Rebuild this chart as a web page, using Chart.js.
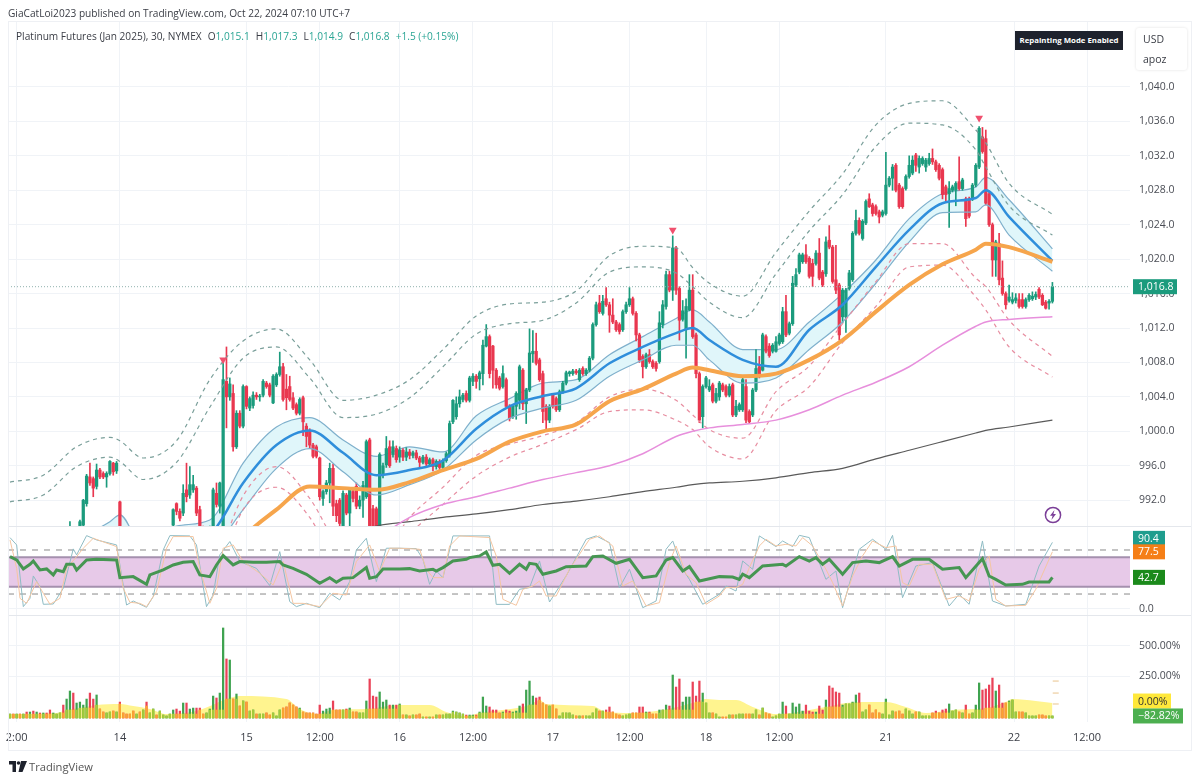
<!DOCTYPE html>
<html>
<head>
<meta charset="utf-8">
<title>Platinum Futures (Jan 2025)</title>
<script src="https://cdn.jsdelivr.net/npm/chart.js@4/dist/chart.umd.min.js"></script>
<style>
  html, body { margin: 0; background: #fff; }
  body { width: 1200px; height: 782px; position: relative; overflow: hidden; font-family: "Open Sans", sans-serif; color: #3a3d45; }
  canvas { position: absolute; left: 0; top: 0; }
  .abs { position: absolute; white-space: nowrap; }
  #frame { left: 8px; top: 21px; width: 1184px; height: 730px; border: 1px solid #eef0f4; box-sizing: border-box; }
  #published { left: 8px; top: 6px; font-size: 10.15px; }
  #legend { left: 16px; top: 29px; font-size: 10.15px; }
  #legend b { font-weight: 400; color: #2aa594; }
  #legend span { margin-left: 6px; }
  #badge { left: 1015px; top: 31px; width: 108px; height: 19px; line-height: 19px; text-align: center; background: #1e222d; color: #fff; font-size: 7.8px; font-weight: 700; }
  #unit { left: 1136px; top: 28px; width: 51px; height: 42px; background: #fff; box-shadow: 0 0 3px rgba(0,0,0,.12); border-radius: 3px; font-size: 10.5px; line-height: 20px; padding: 1px 0 0 7px; box-sizing: border-box; }
  #logoText { left: 29px; top: 759px; font-size: 11.2px; color: #555; }
</style>
</head>
<body>
<canvas id="chart" width="1200" height="782"></canvas>
<div class="abs" id="frame"></div>
<div class="abs" id="published">GiaCatLoi2023 published on TradingView.com, Oct 22, 2024 07:10 UTC+7</div>
<div class="abs" id="legend">Platinum Futures (Jan 2025), 30, NYMEX<span>O<b>1,015.1</b></span><span>H<b>1,017.3</b></span><span>L<b>1,014.9</b></span><span>C<b>1,016.8</b></span><span><b>+1.5 (+0.15%)</b></span></div>
<div class="abs" id="badge">Repainting Mode Enabled</div>
<div class="abs" id="unit">USD<br>apoz</div>
<svg class="abs" style="left:1044px;top:506px" width="18" height="18" viewBox="0 0 18 18">
  <circle cx="9" cy="9" r="7.6" fill="none" stroke="#7b3f98" stroke-width="1.5"/>
  <path d="M10.5 4 L6 9.8 H8.6 L7.4 14 L12 8 H9.4 Z" fill="#7b3f98"/>
</svg>
<svg class="abs" style="left:9px;top:761px" width="18" height="11" viewBox="0 0 18 11">
  <path d="M0 0 H7 V11 H3.5 V3.5 H0 Z M12 0 H18 L13.5 11 H9.5 Z" fill="#1e222d"/>
  <circle cx="9.5" cy="2" r="1.8" fill="#1e222d"/>
</svg>
<div class="abs" id="logoText">TradingView</div>
<script>
// 30 minute candles, one column per array
const opens = [
  985.2,985.6,985.3,985.9,985.6,986.1,985.9,986.4,986.2,986.6,
  986.4,986.8,986.5,986.2,986.6,987.0,987.3,987.1,987.9,988.5,
  988.1,988.4,989.1,991.6,994.7,994.5,993.6,995.5,995.1,994.7,
  995.1,996.3,995.4,991.8,988.9,987.2,986.5,986,985.5,985.9,
  985.6,986.1,985.8,986.2,986.7,986.4,986.9,987.2,987.6,989.1,
  991.6,990.7,990.5,993.2,992.6,993.2,993.4,990.9,988.5,987.5,
  987.8,988.9,992.8,991.3,989,1005.8,1004,1004.4,998.2,1002.1,
  1000.6,1005.2,1002.7,1003,1004.2,1004,1004.2,1005.6,1005.4,1003.3,
  1005.4,1006.6,1007.5,1004.9,1005.2,1003.9,1003.1,1002.1,1003.9,1000.6,
  1000.1,998.4,998.2,996.9,992.2,993,994,995.7,991.6,992,
  989,992.6,990.5,993,993.6,991.3,992,992.4,999,991,
  991,988.9,995,996.1,998.2,997.3,998,997,997.8,997,
  997.6,997.2,997.5,996.9,996.4,997,996.2,996.7,995.9,996.5,
  995.8,996.6,997.3,1001.1,1001.7,1003.2,1003.7,1004.4,1003.6,1005.8,
  1006.4,1006.1,1006.7,1009.9,1011,1009.9,1007.1,1006.2,1005.2,1006,
  1002.9,1001.7,1002.9,1003.6,1007.1,1003.2,1004.8,1009,1009.3,1008.3,
  1006.7,1002.9,1001.3,1004.2,1003.8,1002.5,1004.6,1005.6,1006.7,1006.7,
  1007,1006,1007.3,1006.7,1007.1,1008.5,1012.4,1014.9,1013.7,1015.4,
  1014.7,1013.5,1012.7,1012.4,1011.8,1013.9,1014.7,1015.4,1013.7,1011.2,
  1008.7,1007.5,1008.9,1008.1,1007.9,1008.1,1012.4,1014.5,1018.2,1016.4,
  1021.3,1016.6,1013,1011.8,1014.1,1016.4,1011.2,1006.7,1001.7,1005.2,
  1004.8,1005.4,1003.5,1004,1005.4,1005.2,1004.2,1005.4,1001.9,1002.5,
  1002.5,1005.2,1002.3,1001.9,1004.8,1007.5,1007.1,1011,1009.9,1009.3,
  1009.3,1010.2,1010.4,1013.9,1011.4,1012.5,1017,1018.5,1019.7,1020.5,
  1020.1,1019.5,1019.5,1020.7,1018.5,1018.3,1022.2,1021.4,1017.6,1017,
  1013.3,1013.3,1016.6,1017.6,1023,1024.5,1022.4,1024.2,1027,1026.3,
  1026.1,1025.5,1025.1,1025.3,1028.6,1029.4,1030.9,1028.6,1028.2,1028.2,
  1029.6,1030,1032.1,1030.7,1031.1,1030.7,1031.1,1031.7,1031.3,1030.9,
  1030.4,1028.4,1027.6,1028,1028,1029,1028.2,1027,1027,1027,
  1028.6,1030.7,1034.2,1034,1027.6,1024,1019.9,1021.8,1017.8,1016,
  1015.2,1015,1015.2,1015.3,1015.3,1014.5,1015.3,1015.4,1015.6,1016.5,
  1015.8,1015,1014.9,1015.1
];
const highs = [
  985.9,986,986.1,986.2,986.3,986.5,986.6,986.8,986.9,987.1,
  987,987.2,987,986.8,987.2,987.6,988,988.2,989.5,988.8,
  988.7,989.7,992.1,995,996.3,994.7,996.2,995.7,995.3,995.3,
  996.6,996.4,996.5,991.9,988.9,988,987.2,986.8,986.3,986.6,
  986.4,986.7,986.5,987,987.3,987.2,987.5,987.9,988.6,991,
  991.7,991,993.8,996.3,995.9,994.9,993.6,991.3,989,988.2,
  989,993.4,994,994.1,1008.3,1009.8,1006.2,1005.4,1002.4,1002.4,
  1005.4,1005.3,1004,1004.6,1004.5,1004.3,1006,1005.8,1005.6,1006.6,
  1006.8,1009.2,1007.9,1006.6,1006.4,1004.5,1003.3,1003.9,1004.1,1000.9,
  1000.3,998.6,998.4,997,993.2,994.3,996.3,996.2,992,992.2,
  993.1,992.8,993.4,993.4,994,992.5,994.2,999,999.2,991.4,
  991.2,997.5,996.3,999.4,998.9,998.9,998.3,998.2,998,998.1,
  997.9,997.7,997.8,997.1,997.2,997.3,996.9,996.9,996.7,996.7,
  996.8,997.6,1001.2,1003.7,1004,1004.8,1004.4,1004.7,1006.4,1006.7,
  1006.6,1007,1010.6,1012.4,1011.2,1010,1007.3,1006.4,1007.6,1006.2,
  1003.1,1003.1,1004.6,1007.7,1007.3,1005,1011.9,1011.7,1011.4,1008.5,
  1007,1003.1,1003.1,1004.4,1004,1004.8,1005.8,1007,1007,1007.2,
  1007.2,1007.3,1007.5,1007.3,1008.7,1012.6,1015,1015.8,1015.8,1016.7,
  1015,1015.4,1012.9,1012.6,1014.1,1015,1016.7,1015.6,1013.9,1011.4,
  1008.9,1009.1,1009.5,1008.3,1008.1,1013.9,1015.2,1018.6,1018.6,1022.7,
  1021.5,1016.8,1015.2,1015.4,1018.2,1018.2,1011.4,1006.9,1005.4,1006.4,
  1006,1005.6,1005,1005.8,1005.6,1005.4,1005.5,1005.6,1003.6,1003.3,
  1006.2,1006,1002.5,1005,1009.5,1008.7,1011.4,1011.2,1010.2,1010.2,
  1011,1011.4,1014.4,1015.8,1012.7,1018,1018.9,1020.7,1020.7,1021.7,
  1020.3,1020,1021,1022.4,1018.7,1022.6,1023.9,1021.6,1021.6,1017.2,
  1016.6,1016.6,1018.7,1023.2,1025.7,1024.8,1024.6,1026.9,1027.6,1026.5,
  1026.3,1025.7,1025.7,1032.4,1029.6,1031,1031.1,1028.8,1028.4,1029.8,
  1032,1032,1032.3,1032,1031.9,1031.7,1032.3,1032.8,1031.5,1031.1,
  1030.6,1028.6,1029,1028.6,1029,1031.9,1029.4,1027.2,1027.2,1028.8,
  1031.1,1035.4,1035.3,1035,1027.8,1024.2,1022.2,1023,1019.8,1016.2,
  1017,1016.1,1016,1016,1016,1015.5,1016,1016.2,1016.2,1016.7,
  1016,1015.2,1015.3,1017.3
];
const lows = [
  984.9,985.2,985,985.5,985.3,985.7,985.6,986,985.9,986.3,
  986.1,986.5,986,985.9,986.3,986.7,987,986.9,987.6,987.8,
  987.6,988.2,988.8,991.3,993.7,992.4,993.3,994.5,994.5,993.5,
  994.9,994.9,995.1,987,986.5,986,985.6,985.2,984.9,985.4,
  985,985.6,985.3,985.9,986.2,986,986.5,986.8,987.3,988.7,
  990.3,989.6,990.2,991.8,992.2,992.9,990.2,988,987,987,
  987.5,988.7,991.2,990.5,988.5,1000.4,1003.6,997.7,998,1000.4,
  1000.4,1002.6,1002.4,1002.7,1003.7,1003.5,1004,1005,1004,1003.2,
  1005.2,1006.4,1003.5,1002.5,1003.5,1002.5,1001.9,1001.9,999.5,998.2,
  998,996.9,996.9,992,991.4,992.7,991.7,990.2,989.5,988.5,
  988.5,990.3,988.8,991.8,991,991,990,992.2,987,988,
  988,988.5,994.6,995.8,995.8,997,996.4,996.4,996.6,996.6,
  996.8,996.9,996.7,995.8,996.2,996,995.9,995.4,995.6,995.3,
  995.6,996.4,997,1000.9,1001.4,1002.8,1003.4,1003.4,1003.4,1005.3,
  1005,1004.8,1005.4,1009.8,1006.2,1005,1005,1004.8,1005,1002.7,
  1001.2,1001.5,1001.4,1002.6,1002.5,1000.9,1004.6,1008,1007.7,1005.8,
  1001,1000.2,1001,1002.7,1002.3,1002.3,1004.4,1005.4,1006.4,1006.5,
  1006.6,1005.8,1006.5,1006.5,1006.9,1008.3,1012.2,1013.7,1013.5,1014.5,
  1011.5,1012.5,1011.6,1011.3,1011.6,1013.7,1014.5,1013.5,1010.5,1008,
  1006.2,1007.3,1007.9,1007.3,1007,1007.9,1012,1014.2,1016.2,1015.2,
  1015.9,1010.6,1012.8,1008.5,1014,1010.8,1006.2,1001,1000.4,1005,
  1004.6,1003.3,1003.3,1003.6,1004.6,1004,1004,1001.7,1001.7,1002.3,
  1002.3,1001,1000.9,1001.7,1004.6,1006.2,1007,1009.1,1008.6,1009.1,
  1009.2,1010,1010.2,1011,1011.2,1012.3,1016.8,1018.3,1019.5,1019.5,
  1017.8,1016.8,1019.3,1017.6,1016.8,1018,1021.2,1017.2,1016,1010.6,
  1012.6,1011.5,1016.4,1017.4,1022.8,1022.8,1022.2,1024,1026,1025,
  1025.1,1024.2,1024.9,1025.1,1028.4,1028,1027.8,1025.9,1025.9,1028,
  1029.4,1029.8,1030.2,1030,1030.9,1030.2,1030.9,1031,1030.2,1029.2,
  1027,1026.8,1023.7,1027.8,1026.2,1028,1028,1023.8,1024.8,1026.8,
  1028.4,1030.5,1032.3,1026.3,1023.8,1018,1018,1017,1015.8,1014.2,
  1015,1014.8,1014.9,1014.3,1014.3,1014.3,1015.1,1015.2,1015.3,1015.4,
  1014.6,1014.2,1014.2,1014.9
];
const closes = [
  985.6,985.3,985.9,985.6,986.1,985.9,986.4,986.2,986.6,986.4,
  986.8,986.5,986.2,986.6,987,987.3,987.1,987.9,988.5,988.1,
  988.4,989.5,992,994.8,994,993.4,995.5,994.7,994.7,995.1,
  996.5,995.3,996.3,988.9,987.2,986.5,986,985.5,985.9,985.6,
  986.1,985.8,986.2,986.7,986.4,986.9,987.2,987.6,988.4,990.9,
  990.7,989.9,992.8,992.4,993.8,993.8,990.5,988.9,987.5,987.8,
  988.8,993.2,991.5,994,1006,1004,1005.5,998.2,1002.1,1000.6,
  1005.2,1002.9,1003.8,1004.2,1004,1004.1,1005.8,1005.2,1004.2,1006.4,
  1006.6,1007.5,1003.7,1003.9,1003.7,1002.7,1002.1,1003.7,1001.1,999.4,
  998.4,997.1,997.1,992.4,993,994,995.7,991.3,990.2,989.3,
  992.8,990.5,993.2,992.2,991.3,992,993.7,998.8,988,988.6,
  988.9,997.3,996,998,996,998.2,996.7,997.8,997,997.6,
  997.2,997.5,996.9,996.4,997,996.2,996.7,995.9,996.5,995.8,
  996.6,997.4,1000.9,1003.6,1003.2,1004,1004.2,1003.6,1006.2,1006.4,
  1005.8,1006.8,1010,1011,1006.7,1007.1,1005.4,1005,1006.7,1002.9,
  1001.5,1002.9,1004.4,1007.5,1003.2,1004.8,1009.1,1009.3,1007.9,1006,
  1002.3,1001.3,1002.9,1002.9,1002.5,1004.6,1005.6,1006.8,1006.9,1007,
  1006.8,1007.1,1006.7,1007.1,1008.5,1012.4,1014.7,1013.9,1015.1,1014.7,
  1013.5,1012.7,1011.8,1011.6,1013.9,1014.7,1015.4,1013.7,1011.2,1008.3,
  1007.5,1008.9,1008.1,1007.5,1007.3,1012.6,1014.7,1018.2,1016.4,1021.3,
  1016.4,1012.9,1014,1014.5,1016.4,1011,1006.7,1001.3,1005.2,1006.2,
  1005.2,1003.5,1004.4,1005.6,1004.8,1004.2,1005.2,1001.9,1002.9,1003.1,
  1006,1001.3,1001.1,1004.8,1007.3,1006.4,1011.2,1009.3,1008.8,1010,
  1010.4,1011.2,1013.9,1011.2,1012.5,1017.2,1018.2,1020.5,1020.5,1019.7,
  1018,1018,1020.7,1017.8,1017,1022,1021.4,1017.4,1016.4,1011.2,
  1016.4,1016.4,1018.4,1023,1024.5,1023,1024.4,1026.7,1026.1,1025.3,
  1025.3,1024.9,1025.5,1028.6,1029.4,1030.7,1028,1026.1,1026.1,1029.6,
  1030.9,1031.5,1030.9,1031.7,1031.7,1031.5,1031.7,1031.3,1030.4,1029.4,
  1027.5,1027.5,1028.2,1028.4,1028.8,1028.2,1029.2,1024.7,1025,1028.6,
  1030.9,1035.2,1032.5,1026.5,1024,1019.9,1022,1017.6,1016,1014.7,
  1015.6,1015.3,1015.5,1014.5,1014.5,1015.3,1015.8,1015.7,1015.9,1015.6,
  1014.7,1014.3,1015.1,1016.8
];

const lineBars = [0,10,20,30,33,40,50,60,70,80,90,100,110,120,130,140,150,160,170,180,190,200,205,210,220,230,240,250,260,270,280,290,293,300,313];
const envUpper2 = [994.1,994.9,998.2,999.3,998.9,996.9,998.9,1006,1010.5,1011.9,1008.3,1003.6,1004.2,1006,1009.5,1013.4,1014.8,1015,1016.3,1020.4,1021.5,1021.3,1019,1017.2,1015.7,1020.8,1025.6,1029.9,1035.6,1038.1,1038.4,1035,1033.5,1028.8,1025.2];
const envUpper1 = [991.8,992.6,995.9,997,996.5,994.4,996.4,1002.8,1008.5,1009.8,1006.2,1001.6,1002,1003.9,1007.5,1011.3,1012.5,1012.9,1014.9,1018.5,1019.1,1018.4,1016.8,1015,1013.2,1018.3,1023.3,1027.5,1033.1,1035.8,1035.6,1032.7,1030.7,1026.2,1022.8];
const bandUpper = [986,986.5,987.5,989.5,990.3,986.5,989,989.7,996.3,1000.5,1001.6,999,997.1,998.2,997.6,1001.8,1003.8,1005.6,1006,1008.9,1011,1013.1,1014.1,1012.7,1009.5,1009.5,1012.7,1016,1019.9,1024.7,1027.6,1028.4,1029.5,1026.9,1021.2];
const bandMiddle = [984,984.5,985,986.5,987.5,986,987,988,994,998.4,1000.1,997.5,994.9,995.5,996.6,1000.3,1002.9,1004.1,1005,1007.9,1009.8,1011.4,1012,1010.6,1008.3,1007.5,1011.8,1014.7,1019.1,1023.4,1026.5,1027.1,1028,1024.9,1019.8];
const bandLower = [982,982.5,983,984,985,984,985,986,990.9,995.7,998,995.3,992.6,993.8,995.5,999,1001.5,1002.7,1003.6,1006.4,1008.3,1010,1010,1008.3,1005.6,1006.2,1009.5,1012.7,1017.2,1022,1025.4,1025.5,1026.3,1022.8,1018.6];
const envLower1 = [976,976.5,977,978,978.5,977,978,983,992.5,995.9,992.2,986,985,990,993.5,997.2,998.5,999.5,1001,1004,1004.9,1003.6,1001.9,1000.2,999.2,1004.6,1007.6,1012.5,1017.4,1021.8,1021.8,1017.8,1016.8,1012.9,1008.7];
const envLower2 = [974,974.5,975,976,976.5,975,976,981,990.9,993.5,990,983.5,983,988,991.5,994.8,997,998.5,1000.2,1002.3,1002.5,1001.3,1000.2,998.2,996.8,1002.4,1005.2,1010.3,1014.5,1019.1,1019.3,1015.6,1014.1,1009.8,1006.3];
const emaOrange = [975,975.5,976,977,977.5,978,979,982,987.6,990.9,993.6,993.4,993.2,994.1,995.5,996.8,998.8,1000,1000.8,1003.5,1004.9,1006.7,1007.4,1007.1,1006.4,1006.7,1008.3,1010.6,1013.9,1017,1019.4,1021.1,1021.8,1021.4,1019.7];
const maPink = [972,973,974,975,975.5,976,977,978,979.5,981,983,985,987.5,990,991.5,992.4,993.4,994.4,995.2,996,997.4,999.4,1000,1000.4,1000.8,1001.3,1002.5,1004.2,1005.7,1007.5,1010,1012.2,1012.7,1013,1013.3];
const maDark = [978,979,980,981,981.3,982,983,984,985,985.7,986.5,987.8,989,989.5,990,990.4,990.9,991.5,991.9,992.4,993,993.5,993.8,994,994.2,994.6,995.2,995.7,996.8,997.8,998.8,999.8,1000.1,1000.5,1001.3];

const signalBars = [64,199,291];
const signalPrices = [1008.3,1023.4,1036.4];
const lastPrice = 1016.8;

// oscillator pane
const rsiBars = [0,2,4,6,7,9,11,13,14,16,17,19,20,23,26,32,33,37,41,42,46,49,52,55,57,60,62,64,67,69,73,77,81,82,85,89,93,96,98,100,103,107,108,110,112,117,120,123,127,128,130,133,137,138,141,143,145,147,150,153,155,156,158,160,164,167,173,175,178,182,186,190,194,197,199,202,204,207,213,217,219,220,222,226,232,233,237,240,242,244,246,250,253,257,261,265,267,271,276,280,285,287,292,294,296,299,304,306,312,313];
const rsiValues = [71,66.4,54.2,60.5,65,52.8,54.2,46,52.8,50.5,60.5,60.5,52.8,66.4,67.4,66.4,42.3,43.7,33.2,46,52.8,59.6,63.3,64.2,46,43.7,59.6,72.4,59.6,64.2,63.3,63.3,64.2,59.6,55,46.9,34.6,42.3,36,41.4,42.3,56,41.4,43.7,54.2,54.2,54.6,51.4,53.7,51.4,56,65,67.3,69.6,71.9,77.3,59.1,60.5,48.2,60.5,53.7,61.9,60.5,46.9,51.4,57.3,58.2,71,71.9,61.9,67.3,42.3,44.6,66.4,69.6,51.4,57.3,37.8,43.7,43.2,40,46.9,42.3,58.2,60.5,58.2,71,65,69.6,60.5,67.3,46.9,62.8,65,62.8,71,58.2,67.3,67.3,53.7,56,42.3,68.2,44.6,40,32.3,33.2,36.4,36.4,42.7];
const stochKBars = [0,2,4,6,7,9,10,13,16,19,20,23,26,32,35,37,41,43,46,48,54,56,59,61,63,66,69,74,78,81,84,86,89,93,96,99,102,104,107,110,113,117,122,124,126,128,130,133,144,146,150,153,156,159,162,167,173,176,180,183,186,190,194,197,199,202,204,208,213,215,218,220,223,225,230,232,235,237,240,245,248,250,255,259,263,265,268,272,277,282,285,288,292,295,299,305,309,313];
const stochKValues = [96.9,86.9,2.8,14.1,44.6,30,6,6.4,27.8,81.5,73.3,99.6,93.7,86.9,5,10.5,1.9,16.4,80,99.6,99.2,86.9,2.8,18.7,73.3,91.5,64.2,55,31.4,77.8,9.6,2.8,7.3,1.4,21,11.9,36.9,80,96,36.9,82.4,82.4,81.9,67.3,33.2,51.4,42.3,99.2,99.2,5.9,5.9,26.4,28.7,65,9.1,44.6,94.6,99.2,90,28.7,53.7,1.4,10.5,81,92.3,53.7,40,6,19.6,30.9,24.1,65,53.7,99.2,84.6,92.3,84.6,100,96.9,40,51.4,1.4,81,94.6,81,100,15,58.2,62.8,3.7,19.6,6,92.3,10.5,3.7,6,58.2,90.4];
const stochDBars = [0,2,3,5,8,10,12,15,17,20,22,25,32,34,36,39,41,44,47,49,55,57,60,62,64,67,70,75,79,82,85,88,93,97,101,104,108,111,114,117,123,125,127,130,132,135,144,146,148,152,154,157,159,161,164,168,174,177,181,184,187,191,195,198,200,203,206,209,213,215,218,220,222,225,227,230,233,236,238,241,245,247,250,253,256,259,263,266,268,270,273,277,281,285,288,291,294,296,299,305,308,313];
const stochDValues = [93.7,55,14.1,7.3,36.9,21,6,14.1,55,71,82.4,96,84.6,27.8,8.7,7.3,2.8,23.2,82.4,98.3,98.3,55,7.3,27.8,82.4,86.9,64.2,48.3,32.3,64.2,7.3,7.3,2.8,21,18.7,64.2,86.9,50.5,82.4,82.4,81,53.7,42.3,42.3,85.5,99.2,96.9,71.9,12.7,4.6,26.4,30.9,37.8,17.3,17.3,53.7,94.6,99.2,85.5,30.9,37.8,3.7,8.2,62.8,85.5,46.9,35.5,6,17.3,28.7,28.7,33.2,55.9,85.5,94.6,85.5,87.8,85.5,96.9,85.5,53.7,35.5,3.7,44.6,72,92.3,83.2,85.5,35.5,30.9,60.5,60.5,12.7,17.3,10.5,53.7,71.9,12.7,3.7,4.6,26.4,77.5];

// relative volume pane, in percent
const volumes = [
  -67,-67,-67,-67,-67,-50,-50,-42,-50,-58,
  -58,-58,-33,-58,-67,-58,8,58,125,108,
  25,33,8,58,108,58,92,-25,-50,-58,
  -50,-42,-50,33,-58,-67,-67,-42,-67,-50,
  -33,33,-58,-25,-75,-42,-75,-83,-67,-33,
  -25,-42,25,25,-25,-17,-17,-17,-67,-58,
  -25,83,67,108,650,392,383,58,100,0,
  42,33,-42,-33,-67,-67,-67,-58,-75,-58,
  -83,-33,-17,-8,25,8,-8,-17,-50,-58,
  -58,-58,-67,8,-42,-25,-17,42,-33,-33,
  -33,-25,-17,-50,-50,-58,-58,42,225,83,
  75,117,33,50,8,8,8,17,-75,-75,
  -83,-75,-75,-67,-92,-92,-92,-92,-75,-75,
  -75,-67,-67,-42,-50,-58,-67,-75,-75,-75,
  -75,-50,75,0,-8,-33,-33,-58,-50,-33,
  -42,-50,-42,0,17,133,208,83,67,75,
  25,8,0,8,-25,-83,-58,-58,-58,-75,
  -83,-83,-83,-83,-83,-58,-25,-42,-42,-33,
  -8,-50,-67,-75,-83,-75,-67,-58,-58,-8,
  -8,-50,-50,-67,-67,-33,-33,8,0,258,
  158,225,33,75,75,200,83,208,108,25,
  -58,-58,-67,-92,-92,-92,-75,-75,-75,-67,
  -67,-67,-67,-67,-33,-75,-17,-58,-67,-92,
  -83,-67,33,0,-67,25,-8,17,-42,8,
  -42,-50,-50,0,-33,50,167,150,117,108,
  8,17,17,33,92,108,-50,-33,8,-58,
  -33,-58,-67,58,-75,-42,-50,-42,-67,-25,
  -42,-67,-50,-50,-83,-83,-83,-58,-42,-58,
  -33,-25,17,-42,-33,-50,-58,8,-67,-58,
  8,192,133,142,175,233,125,175,25,25,
  42,50,-50,-50,-50,-58,-83,-83,-83,-75,
  -75,-83,-83,-82.82
];
const volumeAvgBars = [0,14,17,21,26,33,37,42,47,57,65,69,83,87,92,97,107,117,126,131,137,141,156,159,161,175,179,186,196,206,209,213,218,223,230,245,251,256,263,269,275,283,293,299,301,308,313];
const volumeAvg = [-67,-58,-33,-17,8,17,0,-25,-67,-33,58,83,58,-25,-67,-33,-25,8,8,-50,-83,-58,8,50,17,0,-50,-58,-33,33,58,50,50,-8,-67,-8,25,33,33,-8,-58,-33,-17,33,58,42,25];
const volumeDashBars = [314,314,314];
const volumeDashValues = [208,108,17];

// axis ticks
const timeTicks = [2,33,71,93,117,139,163,186,209,231,263,301.5,323.4];
const timeLabels = ['2:00','14','15','12:00','16','12:00','17','12:00','18','12:00','21','22','12:00'];
const priceTicks = [992,996,1000,1004,1008,1012,1016,1020,1024,1028,1032,1036,1040];
const rsiTicks = [0];
const volumeTicks = [250,500];

const X_MIN = -0.6, X_MAX = 336.3;
const GREEN = '#1b9b7d', RED = '#e9374f';
const GRID = '#f0f3f7';

function pts(xs, ys) {
  return xs.map((x, i) => ({ x, y: ys[i] }));
}

function line(label, xs, ys, color, width, order, extra) {
  return Object.assign({
    type: 'line', label, data: pts(xs, ys), yAxisID: 'y',
    borderColor: color, borderWidth: width, pointRadius: 0,
    cubicInterpolationMode: 'monotone', order
  }, extra);
}

function bars(label, data, colors, thickness, yAxisID, order) {
  return {
    type: 'bar', label, data, backgroundColor: colors, borderWidth: 0,
    barThickness: thickness, grouped: false, yAxisID, order
  };
}

const upDown = opens.map((o, i) => closes[i] >= o);
const barIdx = opens.map((o, i) => i);
const wickData = barIdx.map(i => ({ x: i, y: [lows[i], highs[i]] }));
const bodyData = barIdx.map(i => ({ x: i, y: [Math.min(opens[i], closes[i]), Math.max(opens[i], closes[i])] }));
const candleColors = upDown.map(up => up ? GREEN : RED);

// the low part of every volume bar is tinted up to the average behind it
function avgAt(i) {
  let k = 0;
  while (k < volumeAvgBars.length - 1 && volumeAvgBars[k + 1] <= i) k++;
  return volumeAvg[k];
}
const volData = barIdx.map(i => ({ x: i, y: [-100, volumes[i]] }));
const volLowData = barIdx.map(i => ({ x: i, y: [-100, Math.min(volumes[i], avgAt(i))] }));
const volColors = upDown.map(up => up ? '#3fa350' : '#ea4258');
const volLowColors = upDown.map(up => up ? '#a4c93a' : '#f9a431');

const datasets = [
  { type: 'scatter', label: 'Signal', data: pts(signalBars, signalPrices), yAxisID: 'y', pointStyle: 'triangle', rotation: 180, pointRadius: 4.5, backgroundColor: '#f0506e', borderWidth: 0, order: 1 },
  line('Upper 2', lineBars, envUpper2, '#7a9f9a', 1.2, 6, { borderDash: [4, 4] }),
  line('Upper 1', lineBars, envUpper1, '#7a9f9a', 1.2, 6, { borderDash: [4, 4] }),
  line('Lower 1', lineBars, envLower1, '#e78da0', 1.2, 6, { borderDash: [4, 4] }),
  line('Lower 2', lineBars, envLower2, '#e78da0', 1.2, 6, { borderDash: [4, 4] }),
  line('EMA', lineBars, emaOrange, '#f6a54c', 4, 3),
  line('MA pink', lineBars, maPink, '#e78fdc', 1.5, 5),
  line('MA dark', lineBars, maDark, '#5a5a5a', 1.2, 5),
  line('Last', [X_MIN, X_MAX], [lastPrice, lastPrice], '#8fb0ad', 1, 7, { borderDash: [1, 2] }),
  line('Basis', lineBars, bandMiddle, '#2f8edb', 2.5, 4),
  line('Band upper', lineBars, bandUpper, '#7fb0cc', 1.2, 30, { fill: { target: '+1' }, backgroundColor: '#e0f6fa' }),
  line('Band lower', lineBars, bandLower, '#7fb0cc', 1.2, 8),
  bars('Wick', wickData, candleColors, 1, 'y', 21),
  bars('Body', bodyData, candleColors, 2.6, 'y', 20),

  line('RSI', rsiBars, rsiValues, '#469652', 3, 40, { yAxisID: 'yRsi', cubicInterpolationMode: 'default', tension: 0 }),
  line('Stoch K', stochKBars, stochKValues, '#8fbcc4', 1, 42, { yAxisID: 'yRsi', cubicInterpolationMode: 'default', tension: 0 }),
  line('Stoch D', stochDBars, stochDValues, '#f4c6a2', 1, 41, { yAxisID: 'yRsi', cubicInterpolationMode: 'default', tension: 0 }),
  line('Level 80', [X_MIN, X_MAX], [80, 80], '#8a8a8a', 1, 44, { yAxisID: 'yRsi', borderDash: [6, 6] }),
  line('Level 20', [X_MIN, X_MAX], [20, 20], '#8a8a8a', 1, 44, { yAxisID: 'yRsi', borderDash: [6, 6] }),
  line('Band 70', [X_MIN, X_MAX], [70, 70], '#a590ae', 2, 46, { yAxisID: 'yRsi', fill: { target: '+1' }, backgroundColor: '#e7c9e8' }),
  line('Band 30', [X_MIN, X_MAX], [30, 30], '#a590ae', 2, 45, { yAxisID: 'yRsi' }),

  bars('Volume low', volLowData, volLowColors, 1.6, 'yVol', 50),
  bars('Volume', volData, volColors, 1.6, 'yVol', 51),
  line('Volume average', volumeAvgBars, volumeAvg, 'rgba(0,0,0,0)', 0, 60, { yAxisID: 'yVol', fill: { value: -100 }, backgroundColor: '#fff48f' }),
  { type: 'scatter', label: 'Volume dash', data: pts(volumeDashBars, volumeDashValues), yAxisID: 'yVol', pointStyle: 'line', pointRadius: 3, borderColor: '#e9c48c', borderWidth: 1, order: 49 }
];

// price tags on the right hand scale and the pane borders
const tags = [
  { axis: 'y', value: lastPrice, text: '1,016.8', bg: GREEN, fg: '#fff', w: 44, shift: 0 },
  { axis: 'yRsi', value: 90.4, text: '90.4', bg: '#1f9d8e', fg: '#fff', w: 32, shift: -4 },
  { axis: 'yRsi', value: 77.5, text: '77.5', bg: '#f57f17', fg: '#fff', w: 32, shift: 0 },
  { axis: 'yRsi', value: 42.7, text: '42.7', bg: '#1b8a1b', fg: '#fff', w: 32, shift: 0 },
  { axis: 'yVol', value: 0, text: '0.00%', bg: '#ffe83b', fg: '#333', w: 38, shift: -5 },
  { axis: 'yVol', value: -82.82, text: '\u221282.82%', bg: '#4caf50', fg: '#fff', w: 50, shift: 0 }
];

const panelPlugin = {
  id: 'panels',
  afterDraw(chart) {
    const ctx = chart.ctx;
    ctx.save();
    ctx.strokeStyle = '#e4e7ec';
    ctx.lineWidth = 1;
    [chart.scales.yRsi.top, chart.scales.yVol.top].forEach(y => {
      ctx.beginPath();
      ctx.moveTo(8, Math.round(y) + 0.5);
      ctx.lineTo(1192, Math.round(y) + 0.5);
      ctx.stroke();
    });
    ctx.font = '10.5px "Open Sans"';
    ctx.textBaseline = 'middle';
    ctx.textAlign = 'left';
    const left = chart.chartArea.right + 3;
    tags.forEach(t => {
      const y = chart.scales[t.axis].getPixelForValue(t.value) + t.shift;
      ctx.fillStyle = t.bg;
      ctx.fillRect(left, y - 7.5, t.w, 15);
      ctx.fillStyle = t.fg;
      ctx.fillText(t.text, left + 5, y + 0.5);
    });
    ctx.restore();
  }
};

function fixedTicks(values) {
  return scale => { scale.ticks = values.map(value => ({ value })); };
}

function valueAxis(values, min, max, weight, format) {
  return {
    type: 'linear', position: 'right', stack: 'panes', stackWeight: weight, min, max,
    afterBuildTicks: fixedTicks(values),
    afterFit(scale) { scale.width = 62; },
    border: { display: false },
    grid: { color: GRID, drawTicks: false },
    ticks: { padding: 9, color: '#4a4d55', font: { size: 10.5, family: 'Open Sans' }, autoSkip: false, callback: format }
  };
}

new Chart(document.getElementById('chart'), {
  type: 'bar',
  data: { datasets },
  plugins: [panelPlugin],
  options: {
    responsive: false,
    animation: false,
    layout: { padding: { left: 8, right: 8, top: 22, bottom: 30 } },
    plugins: { legend: { display: false }, tooltip: { enabled: false } },
    scales: {
      x: {
        type: 'linear', min: X_MIN, max: X_MAX, offset: false,
        afterBuildTicks: fixedTicks(timeTicks),
        afterFit(scale) {
          scale.height = 30;
          // keep the first label from pushing the plot to the right
          scale.paddingLeft = 0;
          scale.paddingRight = 0;
        },
        border: { display: false },
        grid: { color: GRID, drawTicks: false, offset: false },
        ticks: {
          autoSkip: false, maxRotation: 0, padding: 9, color: '#3a3d45',
          font: { size: 11, family: 'Open Sans' },
          callback: value => timeLabels[timeTicks.indexOf(value)]
        }
      },
      y: valueAxis(priceTicks, 989, 1047.55, 504, v => v.toLocaleString('en-US', { minimumFractionDigits: 1, maximumFractionDigits: 1 })),
      yRsi: valueAxis(rsiTicks, -8.6, 112.7, 89, v => v.toFixed(1)),
      yVol: valueAxis(volumeTicks, -133, 758, 107, v => v.toFixed(2) + '%')
    }
  }
});
</script>
</body>
</html>
